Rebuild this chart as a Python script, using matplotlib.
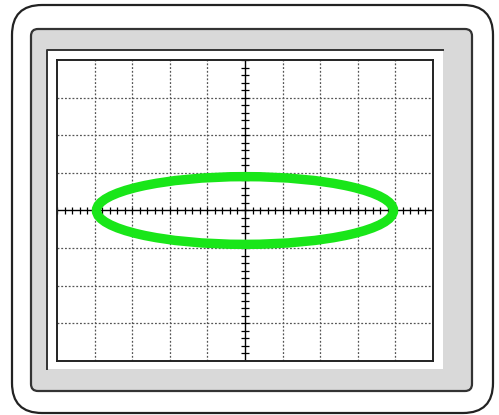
import numpy as np
import matplotlib
matplotlib.use("Agg")
import matplotlib.pyplot as plt
from matplotlib.patches import FancyBboxPatch, Ellipse, Rectangle

# Screen data (in divisions)
x_divisions = 10
y_divisions = 8
ellipse_center = (0.0, 0.0)
ellipse_half_width = 3.95
ellipse_half_height = 0.9
trace_color = "#19e619"

W, H = 499, 415
fig = plt.figure(figsize=(W / 100, H / 100), dpi=100)

# Background axes in pixel coordinates for the bezel
bg = fig.add_axes([0, 0, 1, 1])
bg.set_xlim(0, W)
bg.set_ylim(H, 0)
bg.axis("off")

outer = FancyBboxPatch((12, 5), 481, 408, boxstyle="round,pad=0,rounding_size=30",
                       facecolor="white", edgecolor="#222222", linewidth=1.6)
bg.add_patch(outer)
gray = FancyBboxPatch((31, 29), 441, 362, boxstyle="round,pad=0,rounding_size=7",
                      facecolor="#d9d9d9", edgecolor="#333333", linewidth=1.6)
bg.add_patch(gray)
white = Rectangle((47, 50), 396, 319, facecolor="white", edgecolor="none")
bg.add_patch(white)
bg.plot([47, 47, 443], [369, 50, 50], color="#333333", linewidth=1.4)

# Screen axes
ax = fig.add_axes([57 / W, (H - 361) / H, (433 - 57) / W, (361 - 60) / H])
ax.set_xlim(-x_divisions / 2, x_divisions / 2)
ax.set_ylim(-y_divisions / 2, y_divisions / 2)
ax.set_facecolor("white")
ax.set_xticks([])
ax.set_yticks([])
for s in ax.spines.values():
    s.set_linewidth(1.4)
    s.set_color("#222222")

gx = np.arange(-x_divisions / 2 + 1, x_divisions / 2)
gy = np.arange(-y_divisions / 2 + 1, y_divisions / 2)
for x in gx:
    if x != 0:
        ax.axvline(x, color="#555555", linewidth=0.9, linestyle=(0, (1.5, 1.5)))
for y in gy:
    if y != 0:
        ax.axhline(y, color="#555555", linewidth=0.9, linestyle=(0, (1.5, 1.5)))
ax.axvline(0, color="black", linewidth=1.0)
ax.axhline(0, color="black", linewidth=1.0)

mx = np.arange(-x_divisions / 2, x_divisions / 2 + 0.01, 0.2)
my = np.arange(-y_divisions / 2, y_divisions / 2 + 0.01, 0.2)
ax.vlines(mx, -0.1, 0.1, color="black", linewidth=0.9)
ax.hlines(my, -0.1, 0.1, color="black", linewidth=0.9)

ax.add_patch(Ellipse(ellipse_center, 2 * ellipse_half_width, 2 * ellipse_half_height,
                     facecolor="none", edgecolor=trace_color, linewidth=6.8, zorder=5))

fig.savefig("out.png", dpi=100)
